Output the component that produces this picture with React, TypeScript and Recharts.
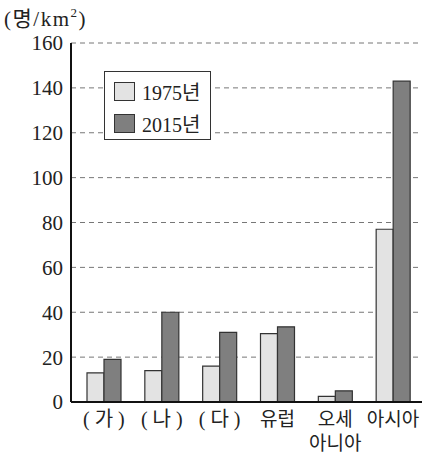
import { BarChart, Bar, XAxis, YAxis, CartesianGrid } from 'recharts'

const categories = ['(가)', '(나)', '(다)', '유럽', '오세아니아', '아시아']
const density1975 = [13, 14, 16, 30.5, 2.5, 77]
const density2015 = [19, 40, 31, 33.5, 5, 143]
const yTicks = [0, 20, 40, 60, 80, 100, 120, 140, 160]

// two-line label for 오세아니아
const tickLines: Record<string, string[]> = {
  오세아니아: ['오세', '아니아'],
}

const rows = categories.map((name, i) => ({
  name,
  y1975: density1975[i],
  y2015: density2015[i],
}))

const FONT = '"Liberation Serif", "Noto Sans CJK KR", serif'

function CategoryTick(props: any) {
  const { x, y, payload } = props
  const lines = tickLines[payload.value] ?? [payload.value]
  return (
    <g transform={`translate(${x},${y})`}>
      {lines.map((line, i) => {
        const spaced = line.startsWith('(')
        return (
          <text
            key={i}
            x={spaced ? 2.5 : 0}
            y={i * 24}
            dy={16}
            textAnchor="middle"
            fontSize={spaced ? 20 : 19}
            fontFamily={FONT}
            fill="#222"
            letterSpacing={spaced ? 5 : 0}
          >
            {line}
          </text>
        )
      })}
    </g>
  )
}

function LegendBox() {
  const item = (color: string, label: string) => (
    <div style={{ display: 'flex', alignItems: 'center', height: 32 }}>
      <span
        style={{
          display: 'inline-block',
          width: 19,
          height: 17,
          background: color,
          border: '1px solid #333',
          marginRight: 7,
        }}
      />
      <span style={{ fontSize: 20, fontFamily: FONT, color: '#222' }}>{label}</span>
    </div>
  )
  return (
    <div
      style={{
        position: 'absolute',
        left: 104,
        top: 71,
        width: 107,
        height: 69,
        background: '#fff',
        border: '1.5px solid #333',
        padding: '3px 0 0 9px',
        boxSizing: 'border-box',
      }}
    >
      {item('#e3e3e3', '1975년')}
      {item('#7f7f7f', '2015년')}
    </div>
  )
}

export default function App() {
  return (
    <div style={{ position: 'fixed', left: 0, top: 0, width: 427, height: 457, background: '#fff' }}>
      <BarChart
        width={427}
        height={457}
        data={rows}
        margin={{ top: 43, right: 5, left: 0, bottom: 0 }}
        barGap={0}
        barSize={17}
      >
        <CartesianGrid vertical={false} strokeDasharray="5 4" stroke="#777" strokeWidth={1} />
        <XAxis
          dataKey="name"
          height={55}
          tickLine={false}
          axisLine={{ stroke: '#111', strokeWidth: 2 }}
          tick={<CategoryTick />}
          interval={0}
          padding={{ left: 4, right: 0 }}
        />
        <YAxis
          domain={[0, 160]}
          ticks={yTicks}
          width={71}
          tickLine={false}
          axisLine={{ stroke: '#111', strokeWidth: 2 }}
          tick={{ fontSize: 21, fontFamily: FONT, fill: '#222' }}
        />
        <Bar dataKey="y1975" fill="#e3e3e3" stroke="#333" strokeWidth={1.2} isAnimationActive={false} />
        <Bar dataKey="y2015" fill="#7f7f7f" stroke="#333" strokeWidth={1.2} isAnimationActive={false} />
      </BarChart>
      <div
        style={{
          position: 'absolute',
          left: 4,
          top: 6,
          fontSize: 21,
          fontFamily: FONT,
          color: '#222',
          lineHeight: '26px',
          letterSpacing: 1.5,
        }}
      >
        (명/km<sup style={{ fontSize: 13, verticalAlign: 'top', lineHeight: '14px' }}>2</sup>)
      </div>
      <LegendBox />
    </div>
  )
}
